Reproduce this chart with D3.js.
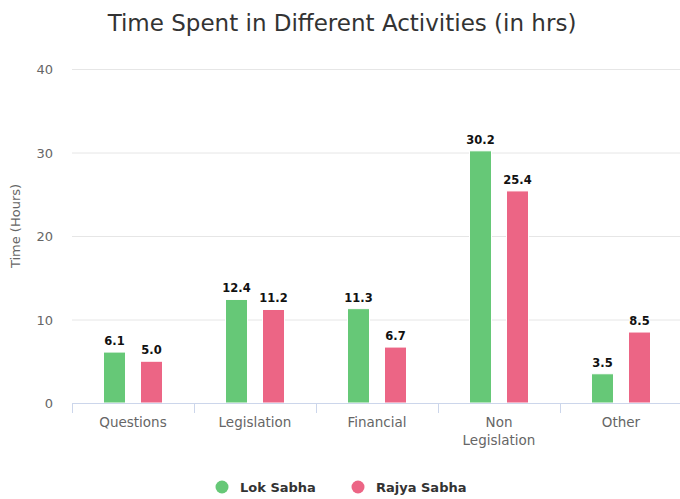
<!DOCTYPE html>
<html><head><meta charset="utf-8">
<script src="https://cdn.jsdelivr.net/npm/d3@7"></script>
<style>body{margin:0;background:#fff}svg{display:block}</style>
</head><body>
<svg id="chart" width="680" height="499"></svg>
<script>
const categories = ["Questions", "Legislation", "Financial", "Non Legislation", "Other"];
const lokSabha = [6.1, 12.4, 11.3, 30.2, 3.5];
const rajyaSabha = [5.0, 11.2, 6.7, 25.4, 8.5];
const seriesNames = ["Lok Sabha", "Rajya Sabha"];
const seriesColors = ["#66c877", "#ec6585"];
const yTicks = [0, 10, 20, 30, 40];

const svg = d3.select("#chart");
const font = "'DejaVu Sans', sans-serif";
const m = {left: 72, top: 69, plotW: 610, plotH: 334};

const x = d3.scaleBand().domain(categories).range([m.left, m.left + m.plotW]);
const y = d3.scaleLinear().domain([0, 40]).range([m.top + m.plotH, m.top]);

// title
svg.append("text").attr("x", 342).attr("y", 31).attr("text-anchor", "middle")
  .attr("font-family", font).attr("font-size", 23).attr("fill", "#333")
  .text("Time Spent in Different Activities (in hrs)");

// grid
svg.append("g").selectAll("line").data(yTicks.filter(d => d > 0)).join("line")
  .attr("x1", m.left).attr("x2", 680).attr("y1", d => y(d) + 0.5).attr("y2", d => y(d) + 0.5)
  .attr("stroke", "#e6e6e6").attr("stroke-width", 1);

// y labels
svg.append("g").selectAll("text").data(yTicks).join("text")
  .attr("x", 53).attr("y", d => y(d) + 5).attr("text-anchor", "end")
  .attr("font-family", font).attr("font-size", 13).attr("fill", "#666").text(d => d);

svg.append("text").attr("transform", `translate(20,226) rotate(-90)`)
  .attr("text-anchor", "middle").attr("font-family", font).attr("font-size", 13)
  .attr("fill", "#666").text("Time (Hours)");

// bars
const x1 = d3.scaleBand().domain(seriesNames).range([0, x.bandwidth()]).paddingInner(0.405).paddingOuter(0.851);
const allSeries = [lokSabha, rajyaSabha];
allSeries.forEach((vals, si) => {
  const g = svg.append("g");
  g.selectAll("rect").data(vals).join("rect")
    .attr("x", (d, i) => x(categories[i]) + x1(seriesNames[si]))
    .attr("width", x1.bandwidth())
    .attr("y", d => y(d)).attr("height", d => y(0) - y(d))
    .attr("fill", seriesColors[si]).attr("stroke", "#fff").attr("stroke-width", 1);
  g.selectAll("text").data(vals).join("text")
    .attr("x", (d, i) => x(categories[i]) + x1(seriesNames[si]) + x1.bandwidth() / 2)
    .attr("y", d => y(d) - 7)
    .attr("text-anchor", "middle").attr("font-family", font).attr("font-size", 11.5)
    .attr("font-weight", "bold").attr("fill", "#111")
    .attr("stroke", "#fff").attr("stroke-width", 2).attr("paint-order", "stroke")
    .text(d => d.toFixed(1));
});

// x axis
const xa = svg.append("g");
xa.append("line").attr("x1", m.left).attr("x2", 680).attr("y1", y(0) + 0.5).attr("y2", y(0) + 0.5)
  .attr("stroke", "#ccd6eb");
const bounds = categories.map(c => x(c));
xa.selectAll("line.t").data(bounds).join("line").attr("class", "t")
  .attr("x1", d => Math.round(d) + 0.5).attr("x2", d => Math.round(d) + 0.5)
  .attr("y1", y(0)).attr("y2", y(0) + 10).attr("stroke", "#ccd6eb");
categories.forEach(c => {
  const words = c.split(" ");
  const t = xa.append("text").attr("text-anchor", "middle").attr("font-family", font)
    .attr("font-size", 13.5).attr("fill", "#666");
  words.forEach((w, i) => t.append("tspan").attr("x", x(c) + x.bandwidth() / 2)
    .attr("y", 427 + i * 18).text(w));
});

// legend
const legendX = [222, 358];
seriesNames.forEach((n, i) => {
  svg.append("circle").attr("cx", legendX[i]).attr("cy", 487).attr("r", 6.5).attr("fill", seriesColors[i]);
  svg.append("text").attr("x", legendX[i] + 18).attr("y", 492).attr("font-family", font)
    .attr("font-size", 13).attr("font-weight", "bold").attr("fill", "#333").text(n);
});
</script>
</body></html>
